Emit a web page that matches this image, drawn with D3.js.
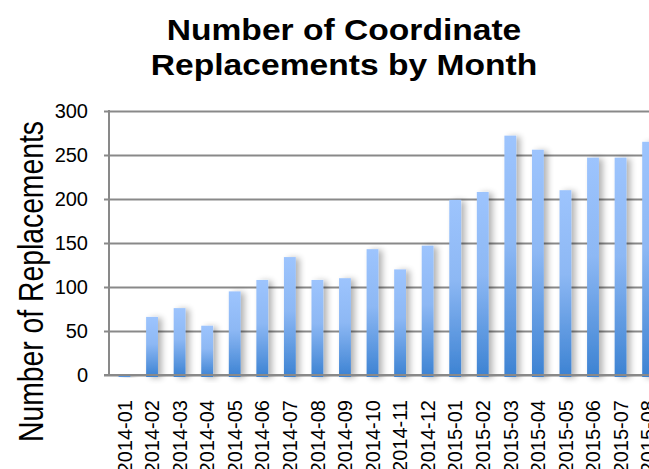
<!DOCTYPE html>
<html>
<head>
<meta charset="utf-8">
<script src="https://cdn.jsdelivr.net/npm/d3@7"></script>
<style>
    html, body { margin: 0; padding: 0; background: #fff; }
    svg { display: block; font-family: "Liberation Sans", Arial, sans-serif; }
</style>
</head>
<body>
<div id="chart"></div>
<script>
// data
const months = [
    "2014-01", "2014-02", "2014-03", "2014-04", "2014-05", "2014-06", "2014-07",
    "2014-08", "2014-09", "2014-10", "2014-11", "2014-12", "2015-01", "2015-02",
    "2015-03", "2015-04", "2015-05", "2015-06", "2015-07", "2015-08",
];
const replacements = [1, 66, 76, 56, 95, 108, 134, 108, 110, 143, 120, 147, 199, 208, 272, 256, 210, 247, 247, 265];
const yTicks = [0, 50, 100, 150, 200, 250, 300];
const titleLines = ["Number of Coordinate", "Replacements by Month"];
const yTitle = "Number of Replacements";

// constants
const WIDTH = 649;
const HEIGHT = 469;
const AXIS_X = 109;
const PLOT_TOP = 111;
const PLOT_BOTTOM = 375;
const STEP = 27.56;
const BAR_GAP = 0.57;
const GRID_COLOUR = "#898989";
const FONT = "\"Liberation Sans\", Arial, sans-serif";

const svg = d3.select("#chart").append("svg")
    .attr("width", WIDTH)
    .attr("height", HEIGHT);

const x = d3.scaleBand()
    .domain(months)
    .range([AXIS_X + 1.7, AXIS_X + 1.7 + STEP * months.length])
    .paddingInner(BAR_GAP)
    .paddingOuter(BAR_GAP / 2);

const y = d3.scaleLinear()
    .domain([0, 300])
    .range([PLOT_BOTTOM, PLOT_TOP]);

buildDefs();

// gridlines + left ticks
const yAxis = d3.axisLeft(y)
    .tickValues(yTicks)
    .tickSize(-(WIDTH - AXIS_X))
    .tickPadding(21)
    .tickSizeOuter(0);

const gy = svg.append("g")
    .attr("transform", "translate(" + AXIS_X + ",0)")
    .call(yAxis);
gy.select(".domain").remove();
gy.selectAll(".tick line")
    .attr("x1", -5)
    .attr("stroke", GRID_COLOUR)
    .attr("stroke-width", 2);
gy.selectAll(".tick text")
    .attr("x", -21)
    .attr("font-size", 20)
    .attr("font-family", FONT)
    .attr("fill", "#000");

// bars
svg.append("g")
    .selectAll("rect")
    .data(replacements)
    .join("rect")
    .attr("x", (d, i) => x(months[i]))
    .attr("y", d => y(d))
    .attr("width", x.bandwidth())
    .attr("height", d => y(0) - y(d) + 2)
    .attr("fill", "url(#barFill)")
    .attr("filter", "url(#barShadow)");

// axis lines
svg.append("line")
    .attr("x1", AXIS_X).attr("x2", AXIS_X)
    .attr("y1", PLOT_TOP - 1).attr("y2", PLOT_BOTTOM + 1)
    .attr("stroke", GRID_COLOUR)
    .attr("stroke-width", 2);
svg.append("line")
    .attr("x1", AXIS_X - 5).attr("x2", WIDTH)
    .attr("y1", PLOT_BOTTOM).attr("y2", PLOT_BOTTOM)
    .attr("stroke", GRID_COLOUR)
    .attr("stroke-width", 2);

// month labels
const xAxis = d3.axisBottom(x).tickSize(0).tickSizeOuter(0);
const gx = svg.append("g")
    .attr("transform", "translate(0," + PLOT_BOTTOM + ")")
    .call(xAxis);
gx.select(".domain").remove();
gx.selectAll(".tick text")
    .attr("font-size", 20)
    .attr("font-family", FONT)
    .attr("fill", "#000")
    .attr("text-anchor", "end")
    .attr("x", 0)
    .attr("y", 0)
    .attr("dy", "0.36em")
    .attr("transform", "translate(0,25) rotate(-90)");

// titles
svg.append("g")
    .selectAll("text")
    .data(titleLines)
    .join("text")
    .attr("transform", (d, i) => "translate(344," + (40 + i * 35) + ") scale(1.12,1)")
    .attr("text-anchor", "middle")
    .attr("font-size", 30)
    .attr("font-weight", "bold")
    .text(d => d);

svg.append("text")
    .attr("transform", "translate(43,281.5) scale(1.23,1) rotate(-90)")
    .attr("text-anchor", "middle")
    .attr("font-size", 28.3)
    .text(yTitle);

function buildDefs() {
    const defs = svg.append("defs");
    const grad = defs.append("linearGradient")
        .attr("id", "barFill")
        .attr("x1", 0).attr("y1", 0)
        .attr("x2", 0).attr("y2", 1);
    grad.append("stop").attr("offset", "0%").attr("stop-color", "#9dc4fd");
    grad.append("stop").attr("offset", "45%").attr("stop-color", "#8db8f4");
    grad.append("stop").attr("offset", "100%").attr("stop-color", "#3c82d2");

    const f = defs.append("filter")
        .attr("id", "barShadow")
        .attr("x", "-50%").attr("y", "-10%")
        .attr("width", "250%").attr("height", "120%");
    f.append("feGaussianBlur")
        .attr("in", "SourceAlpha")
        .attr("stdDeviation", 3)
        .attr("result", "blur");
    f.append("feOffset")
        .attr("in", "blur")
        .attr("dx", 4).attr("dy", 1)
        .attr("result", "off");
    f.append("feComponentTransfer")
        .attr("in", "off")
        .attr("result", "soft")
        .append("feFuncA")
        .attr("type", "linear")
        .attr("slope", 0.3);
    const merge = f.append("feMerge");
    merge.append("feMergeNode").attr("in", "soft");
    merge.append("feMergeNode").attr("in", "SourceGraphic");
}
</script>
</body>
</html>
